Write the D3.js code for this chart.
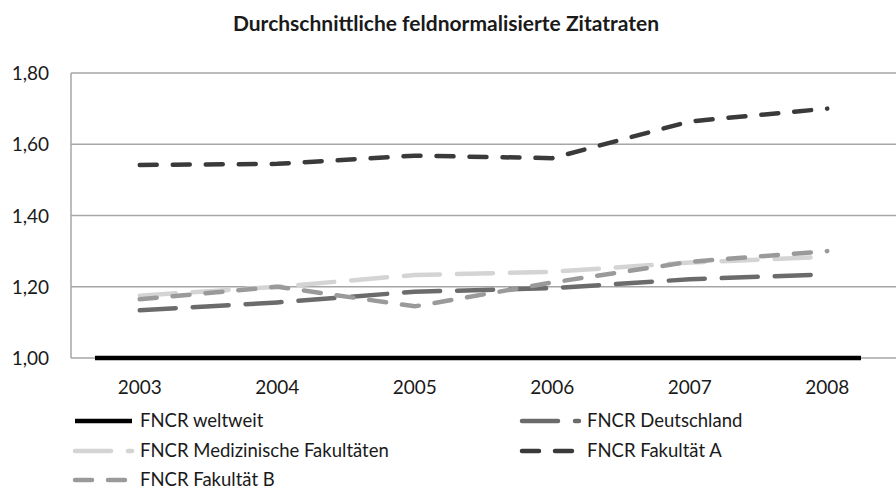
<html>
<head>
<title>Zitatraten</title>
<script src="https://d3js.org/d3.v7.min.js"></script>
<style>
  body { margin: 0; background: #fff; }
  text { font-family: Lato, "Open Sans", sans-serif; fill: #1a1a1a; }
</style>
</head>
<body>
<svg class="chart"></svg>
<script>

    var years = ['2003', '2004', '2005', '2006', '2007', '2008'];
    var yTicks = [1.0, 1.2, 1.4, 1.6, 1.8];

    var weltweit = [1.00, 1.00, 1.00, 1.00, 1.00, 1.00];
    var deutschland = [1.134, 1.156, 1.186, 1.196, 1.221, 1.235];
    var medizin = [1.175, 1.200, 1.233, 1.242, 1.268, 1.284];
    var fakA = [1.542, 1.545, 1.568, 1.561, 1.664, 1.700];
    var fakB = [1.165, 1.200, 1.145, 1.212, 1.270, 1.300];

    var seriesNames = ['FNCR weltweit', 'FNCR Deutschland', 'FNCR Medizinische Fakultäten',
        'FNCR Fakultät A', 'FNCR Fakultät B'];

    var svgWidth = 896, svgHeight = 490;
    var plotLeft = 71, plotRight = 896, plotTop = 73, plotBottom = 358;

    var svg = d3.select('svg')
        .attr('width', svgWidth)
        .attr('height', svgHeight);

    var x = d3.scalePoint()
        .domain(years)
        .range([plotLeft, plotRight])
        .padding(0.5);

    // the black reference line is drawn a bit wider than the other series
    var xWide = d3.scalePoint()
        .domain(years)
        .range([95, 861]);

    var y = d3.scaleLinear()
        .domain([1.0, 1.8])
        .range([plotBottom, plotTop]);

    // gridlines
    svg.append('g')
        .selectAll('line')
        .data(yTicks)
        .enter()
        .append('line')
        .attr('x1', plotLeft)
        .attr('x2', plotRight)
        .attr('y1', function (d) { return y(d); })
        .attr('y2', function (d) { return y(d); })
        .attr('stroke', '#a6a6a6')
        .attr('stroke-width', 1.5);

    svg.append('line')
        .attr('x1', plotLeft).attr('x2', plotLeft)
        .attr('y1', plotTop).attr('y2', plotBottom)
        .attr('stroke', '#a6a6a6')
        .attr('stroke-width', 1.5);

    // y labels
    svg.append('g')
        .selectAll('text')
        .data(yTicks)
        .enter()
        .append('text')
        .text(function (d) { return d.toFixed(2).replace('.', ','); })
        .attr('x', 49)
        .attr('y', function (d) { return y(d) + 7; })
        .attr('text-anchor', 'end')
        .attr('font-size', 19);

    // x labels
    svg.append('g')
        .selectAll('text')
        .data(years)
        .enter()
        .append('text')
        .text(function (d) { return d; })
        .attr('x', function (d) { return x(d); })
        .attr('y', 394)
        .attr('text-anchor', 'middle')
        .attr('font-size', 19);

    var styles = [
        { data: weltweit, color: '#000000', dash: null, width: 4.5, scale: xWide },
        { data: deutschland, color: '#6b6b6b', dash: '36,17', width: 4.5, scale: x },
        { data: medizin, color: '#d4d4d4', dash: '36,17', width: 4.5, scale: x },
        { data: fakA, color: '#3a3a3a', dash: '17,16', width: 4.5, scale: x },
        { data: fakB, color: '#9a9a9a', dash: '17,16', width: 4.5, scale: x }
    ];

    // draw order: lighter ones under, A on top
    var order = [2, 1, 4, 3, 0];
    order.forEach(function (k) {
        var s = styles[k];
        var line = d3.line()
            .x(function (d, i) { return s.scale(years[i]); })
            .y(function (d) { return y(d); });
        svg.append('path')
            .datum(s.data)
            .attr('d', line)
            .attr('fill', 'none')
            .attr('stroke', s.color)
            .attr('stroke-width', s.width)
            .attr('stroke-linecap', s.dash ? 'round' : 'butt')
            .attr('stroke-dasharray', s.dash);
    });

    // title
    svg.append('text')
        .text('Durchschnittliche feldnormalisierte Zitatraten')
        .attr('x', 446)
        .attr('y', 31)
        .attr('text-anchor', 'middle')
        .attr('font-size', 21)
        .attr('font-weight', 'bold');

    // legend
    var legendPos = [
        { x: 75, y: 421 }, { x: 522, y: 421 },
        { x: 75, y: 451 }, { x: 522, y: 451 },
        { x: 75, y: 480 }
    ];
    var legend = svg.append('g')
        .selectAll('g')
        .data(seriesNames)
        .enter()
        .append('g')
        .attr('transform', function (d, i) {
            return 'translate(' + legendPos[i].x + ',' + legendPos[i].y + ')';
        });

    legend.append('line')
        .attr('x1', 0)
        .attr('x2', 57)
        .attr('y1', 0)
        .attr('y2', 0)
        .attr('stroke', function (d, i) { return styles[i].color; })
        .attr('stroke-width', 4.5)
        .attr('stroke-linecap', function (d, i) { return styles[i].dash ? 'round' : 'butt'; })
        .attr('stroke-dasharray', function (d, i) { return styles[i].dash; });

    legend.append('text')
        .text(function (d) { return d; })
        .attr('x', 65)
        .attr('y', 6)
        .attr('font-size', 18.5);

</script>
</body>
</html>
